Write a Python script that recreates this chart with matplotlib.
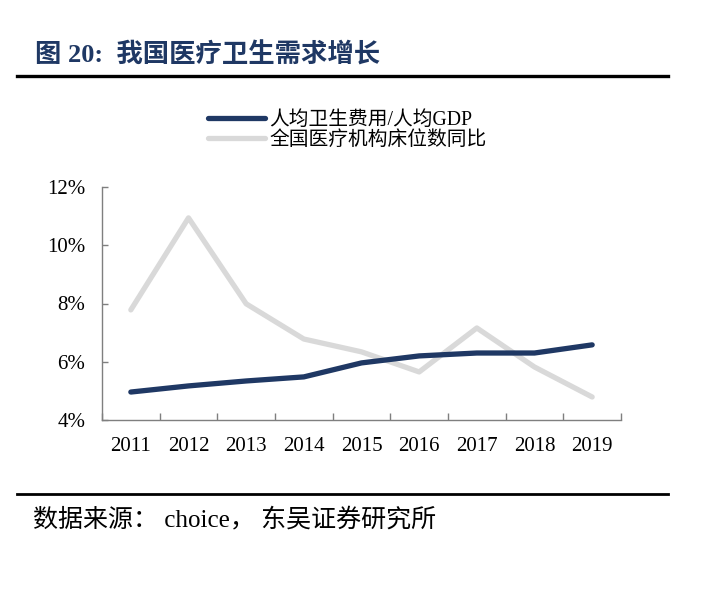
import matplotlib
matplotlib.use("Agg")
import matplotlib.pyplot as plt
from matplotlib.lines import Line2D
import numpy as np

plt.rcParams['font.family'] = ['Liberation Serif', 'Noto Sans CJK SC', 'DejaVu Sans']

years = ['2011', '2012', '2013', '2014', '2015', '2016', '2017', '2018', '2019']
health_gdp = [4.96, 5.17, 5.34, 5.48, 5.96, 6.20, 6.30, 6.30, 6.58]
beds_yoy = [7.78, 10.94, 7.99, 6.78, 6.34, 5.65, 7.16, 5.82, 4.79]
series_names = ['人均卫生费用/人均GDP', '全国医疗机构床位数同比']

navy = '#1F3864'
grey = '#D9D9D9'

fig = plt.figure(figsize=(7.04, 5.93), dpi=100)
ax = fig.add_axes([102/704, 1-420/593, (621-102)/704, (420-187)/593])

x = np.arange(len(years))
ax.plot(x, health_gdp, color=navy, lw=3.8, solid_capstyle='round', zorder=3)
ax.plot(x, beds_yoy, color=grey, lw=3.8, solid_capstyle='round', zorder=2)

ax.set_xlim(-0.5, len(years) - 0.5)
ax.set_ylim(4, 12)
ax.set_yticks([4, 6, 8, 10, 12])
ax.set_yticklabels(['%d%%' % v for v in [4, 6, 8, 10, 12]])
ax.set_xticks(x)
ax.set_xticklabels(years)
ax.set_xticks(np.arange(len(years) + 1) - 0.5, minor=True)

for s in ['top', 'right']:
    ax.spines[s].set_visible(False)
for s in ['left', 'bottom']:
    ax.spines[s].set_color('#7F7F7F')
    ax.spines[s].set_linewidth(1.0)

ax.tick_params(axis='x', which='major', length=0, labelsize=15, pad=12)
ax.tick_params(axis='y', which='major', direction='in', length=4, color='#7F7F7F',
               width=1.0, labelsize=15, pad=12)
ax.tick_params(axis='x', which='minor', direction='in', length=5, color='#7F7F7F', width=1.0)

handles = [Line2D([], [], color=navy, lw=3.8, solid_capstyle='round'),
           Line2D([], [], color=grey, lw=3.8, solid_capstyle='round')]
fig.legend(handles, series_names, loc='upper left', bbox_to_anchor=(208/704, 1-111/593),
           frameon=False, fontsize=14.2, handlelength=2.9, handletextpad=0.2,
           labelspacing=0.05, borderpad=0, borderaxespad=0)

fig.text(35/704, 1-55/593, '图 20:  我国医疗卫生需求增长', fontsize=19, fontweight='bold',
         color=navy, va='center', ha='left')
fig.add_artist(Line2D([17/704, 668/704], [1-76/593, 1-76/593], color='black', lw=2.4))
fig.add_artist(Line2D([17/704, 668/704], [1-494/593, 1-494/593], color='black', lw=2.0))
fig.text(33/704, 1-520/593, '数据来源： choice， 东吴证券研究所', fontsize=18,
         color='black', va='center', ha='left')

fig.savefig('out.png', dpi=100)
